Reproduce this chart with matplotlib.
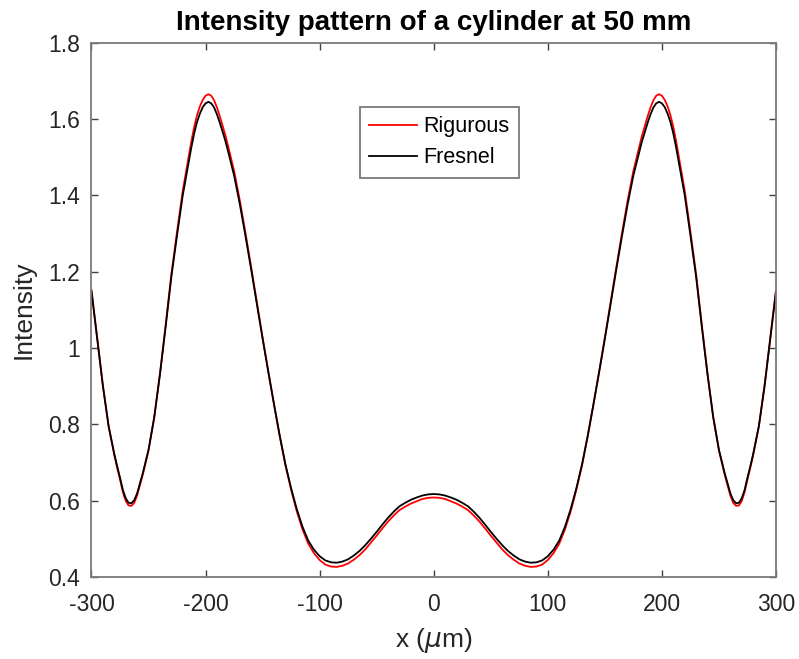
#!/usr/bin/env python3
"""Intensity pattern of a cylinder at 50 mm: rigorous vs Fresnel."""

import matplotlib

matplotlib.use("Agg")
import matplotlib.pyplot as plt
from matplotlib.ticker import FormatStrFormatter

plt.rcParams["font.family"] = ["Liberation Sans", "DejaVu Sans"]
plt.rcParams["axes.unicode_minus"] = False

# x positions in micrometres (denser around the peaks and outer minima)
X_UM = [
    -300, -295, -290, -285,
    -280, -277.5, -275, -272.5, -270, -267.5, -265, -262.5, -260, -257.5,
    -255, -250, -245, -240, -235, -230, -225, -220,
    -215, -212.5, -210, -207.5, -205, -202.5, -200, -197.5, -195, -192.5,
    -190, -187.5, -185, -182.5,
    -180, -175, -170, -165, -160, -155, -150, -145, -140, -135, -130, -125,
    -120, -115, -110, -105, -100, -95, -90, -85, -80, -75, -70, -65, -60,
    -55, -50, -45, -40, -35, -30, -25, -20, -15, -10, -5,
    0,
    5, 10, 15, 20, 25, 30, 35, 40, 45, 50, 55, 60, 65, 70, 75, 80, 85, 90,
    95, 100, 105, 110, 115, 120, 125, 130, 135, 140, 145, 150, 155, 160,
    165, 170, 175, 180,
    182.5, 185, 187.5, 190, 192.5, 195, 197.5, 200, 202.5, 205, 207.5,
    210, 212.5, 215,
    220, 225, 230, 235, 240, 245, 250, 255,
    257.5, 260, 262.5, 265, 267.5, 270, 272.5, 275, 277.5, 280,
    285, 290, 295, 300,
]

FRESNEL = [
    1.148, 1.025, 0.900, 0.795,
    0.722, 0.690, 0.660, 0.628, 0.606, 0.594, 0.593, 0.601, 0.619, 0.645,
    0.672, 0.733, 0.818, 0.930, 1.055, 1.186, 1.295, 1.400,
    1.483, 1.525, 1.562, 1.592, 1.614, 1.631, 1.641, 1.645, 1.641, 1.630,
    1.612, 1.590, 1.566, 1.541,
    1.512, 1.452, 1.377, 1.293, 1.205, 1.115, 1.024, 0.937, 0.852, 0.770,
    0.695, 0.632, 0.577, 0.531, 0.495, 0.471, 0.454, 0.443, 0.438, 0.437,
    0.440, 0.446, 0.456, 0.468, 0.483, 0.500, 0.518, 0.537, 0.555, 0.571,
    0.585, 0.594, 0.602, 0.608, 0.613, 0.616,
    0.617,
    0.616, 0.613, 0.608, 0.602, 0.594, 0.585, 0.571, 0.555, 0.537, 0.518,
    0.500, 0.483, 0.468, 0.456, 0.446, 0.440, 0.437, 0.438, 0.443, 0.454,
    0.471, 0.495, 0.531, 0.577, 0.632, 0.695, 0.770, 0.852, 0.937, 1.024,
    1.115, 1.205, 1.293, 1.377, 1.452, 1.512,
    1.541, 1.566, 1.590, 1.612, 1.630, 1.641, 1.645, 1.641, 1.631, 1.614,
    1.592, 1.562, 1.525, 1.483,
    1.400, 1.295, 1.186, 1.055, 0.930, 0.818, 0.733, 0.672,
    0.645, 0.619, 0.601, 0.593, 0.594, 0.606, 0.628, 0.660, 0.690, 0.722,
    0.795, 0.900, 1.025, 1.148,
]

RIGOROUS = [
    1.152, 1.028, 0.902, 0.795,
    0.719, 0.686, 0.655, 0.622, 0.599, 0.587, 0.586, 0.594, 0.613, 0.640,
    0.668, 0.731, 0.818, 0.932, 1.060, 1.193, 1.305, 1.412,
    1.498, 1.541, 1.579, 1.610, 1.633, 1.650, 1.661, 1.665, 1.661, 1.649,
    1.630, 1.607, 1.582, 1.556,
    1.526, 1.464, 1.387, 1.301, 1.211, 1.119, 1.027, 0.938, 0.852, 0.769,
    0.692, 0.628, 0.571, 0.524, 0.487, 0.462, 0.444, 0.432, 0.427, 0.426,
    0.429, 0.435, 0.445, 0.457, 0.472, 0.490, 0.508, 0.527, 0.545, 0.561,
    0.575, 0.584, 0.592, 0.598, 0.604, 0.607,
    0.608,
    0.607, 0.604, 0.598, 0.592, 0.584, 0.575, 0.561, 0.545, 0.527, 0.508,
    0.490, 0.472, 0.457, 0.445, 0.435, 0.429, 0.426, 0.427, 0.432, 0.444,
    0.462, 0.487, 0.524, 0.571, 0.628, 0.692, 0.769, 0.852, 0.938, 1.027,
    1.119, 1.211, 1.301, 1.387, 1.464, 1.526,
    1.556, 1.582, 1.607, 1.630, 1.649, 1.661, 1.665, 1.661, 1.650, 1.633,
    1.610, 1.579, 1.541, 1.498,
    1.412, 1.305, 1.193, 1.060, 0.932, 0.818, 0.731, 0.668,
    0.640, 0.613, 0.594, 0.586, 0.587, 0.599, 0.622, 0.655, 0.686, 0.719,
    0.795, 0.902, 1.028, 1.152,
]

X_TICKS = [-300, -200, -100, 0, 100, 200, 300]
Y_TICKS = [0.4, 0.6, 0.8, 1.0, 1.2, 1.4, 1.6, 1.8]


def main() -> None:
    fig = plt.figure(figsize=(7.99, 6.59), dpi=100)
    ax = fig.add_axes([0.1145, 0.1247, 0.8567, 0.8105])

    ax.plot(X_UM, RIGOROUS, color="red", lw=1.3, label="Rigurous")
    ax.plot(X_UM, FRESNEL, color="black", lw=1.3, label="Fresnel")

    ax.set_xlim(-300, 300)
    ax.set_ylim(0.4, 1.8)
    ax.set_xticks(X_TICKS)
    ax.set_yticks(Y_TICKS)
    ax.yaxis.set_major_formatter(FormatStrFormatter("%g"))

    for spine in ax.spines.values():
        spine.set_color("#7a7a7a")
        spine.set_linewidth(1.3)
    ax.tick_params(
        direction="in", length=5, width=1.0, color="#404040",
        top=True, right=True, labelsize=16.5, labelcolor="#262626",
    )
    ax.tick_params(axis="x", pad=12)
    ax.tick_params(axis="y", pad=8)

    ax.set_title("Intensity pattern of a cylinder at 50 mm",
                 fontsize=20, fontweight="bold", pad=9)
    ax.set_xlabel(r"x ($\mu$m)", fontsize=19, color="#262626", labelpad=7)
    ax.set_ylabel("Intensity", fontsize=19, color="#262626", labelpad=9)

    leg = ax.legend(
        loc="upper center", bbox_to_anchor=(0.508, 0.88), borderaxespad=0,
        fontsize=15.5, fancybox=False, framealpha=1, edgecolor="#7a7a7a",
        handlelength=2.2, borderpad=0.45, labelspacing=0.45,
        handletextpad=0.3,
    )
    leg.get_frame().set_linewidth(1.3)

    fig.savefig("out.png", dpi=100)


if __name__ == "__main__":
    main()
